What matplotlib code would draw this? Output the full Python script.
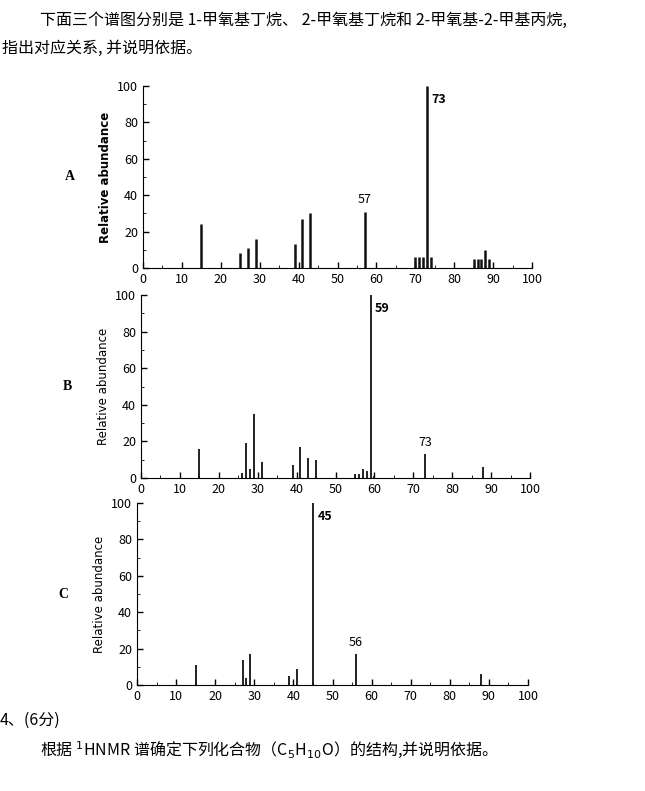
import matplotlib
matplotlib.use("Agg")
import matplotlib.pyplot as plt

plt.rcParams['font.family'] = ['Noto Sans CJK SC', 'DejaVu Sans']

a_mz = [15, 25, 27, 29, 39, 41, 43, 57, 70, 71, 72, 73, 74, 85, 86, 87, 88, 89]
a_ab = [24, 8, 11, 16, 13, 27, 30, 31, 6, 6, 6, 100, 6, 5, 5, 5, 10, 5]
b_mz = [15, 26, 27, 28, 29, 31, 39, 41, 43, 45, 55, 56, 57, 58, 59, 60, 73, 88]
b_ab = [16, 3, 19, 5, 35, 9, 7, 17, 11, 10, 2, 2, 5, 4, 100, 1, 13, 6]
c_mz = [15, 27, 28, 29, 39, 41, 45, 56, 88]
c_ab = [11, 14, 4, 17, 5, 9, 100, 17, 6]
xticks = [0, 10, 20, 30, 40, 50, 60, 70, 80, 90, 100]
yticks = [0, 20, 40, 60, 80, 100]

W, H = 645, 791
fig = plt.figure(figsize=(W/100, H/100), dpi=100)

def px(x0, x1, y0, y1):
    return [x0/W, 1-y0/H, (x1-x0)/W, (y0-y1)/H]

panels = [
    ("A", a_mz, a_ab, px(143, 532, 268, 86), [(73, "73"), (57, "57")]),
    ("B", b_mz, b_ab, px(141, 530, 478, 295), [(59, "59"), (73, "73")]),
    ("C", c_mz, c_ab, px(137, 528, 685, 503), [(45, "45"), (56, "56")]),
]
for name, mz, ab, rect, labels in panels:
    ax = fig.add_axes(rect)
    ax.vlines(mz, 0, ab, color='#111111', lw=1.8 if name == "A" else 1.3)
    ax.set_xlim(0, 100)
    ax.set_ylim(0, 100)
    ax.set_xticks(xticks)
    ax.set_yticks(yticks)
    ax.set_xticks(range(0, 101, 5), minor=True)
    ax.set_yticks(range(0, 101, 10), minor=True)
    for s in ['top', 'right']:
        ax.spines[s].set_visible(False)
    ax.tick_params(labelsize=9, length=4, width=1, direction='in')
    ax.tick_params(which='minor', length=2.5, direction='in')
    ax.set_ylabel("Relative abundance", fontsize=8.5,
                  fontweight='bold' if name == "A" else 'normal',
                  family=['DejaVu Sans'])
    ax.text(-0.2, 0.5, name, transform=ax.transAxes, fontsize=10,
            family=['Liberation Serif'], fontweight='bold', va='center')
    for m, t in labels:
        val = ab[mz.index(m)]
        if val >= 100:
            ax.text(m + 1.2, 96, t, fontsize=9, fontweight='bold', va='top')
        else:
            ax.text(m, val + 3, t, fontsize=9, ha='center', va='bottom')

fs = 11.5
fig.text(40/W, 1-20/H, "下面三个谱图分别是 1-甲氧基丁烷、 2-甲氧基丁烷和 2-甲氧基-2-甲基丙烷,",
         fontsize=fs, va='center')
fig.text(2/W, 1-48/H, "指出对应关系, 并说明依据。", fontsize=fs, va='center')
fig.text(0/W, 1-720/H, "4、(6分)", fontsize=fs, va='center')
fig.text(40/W, 1-750/H, "根据 $^{1}$HNMR 谱确定下列化合物（C$_5$H$_{10}$O）的结构,并说明依据。",
         fontsize=fs, va='center')

fig.savefig("out.png", dpi=100)
